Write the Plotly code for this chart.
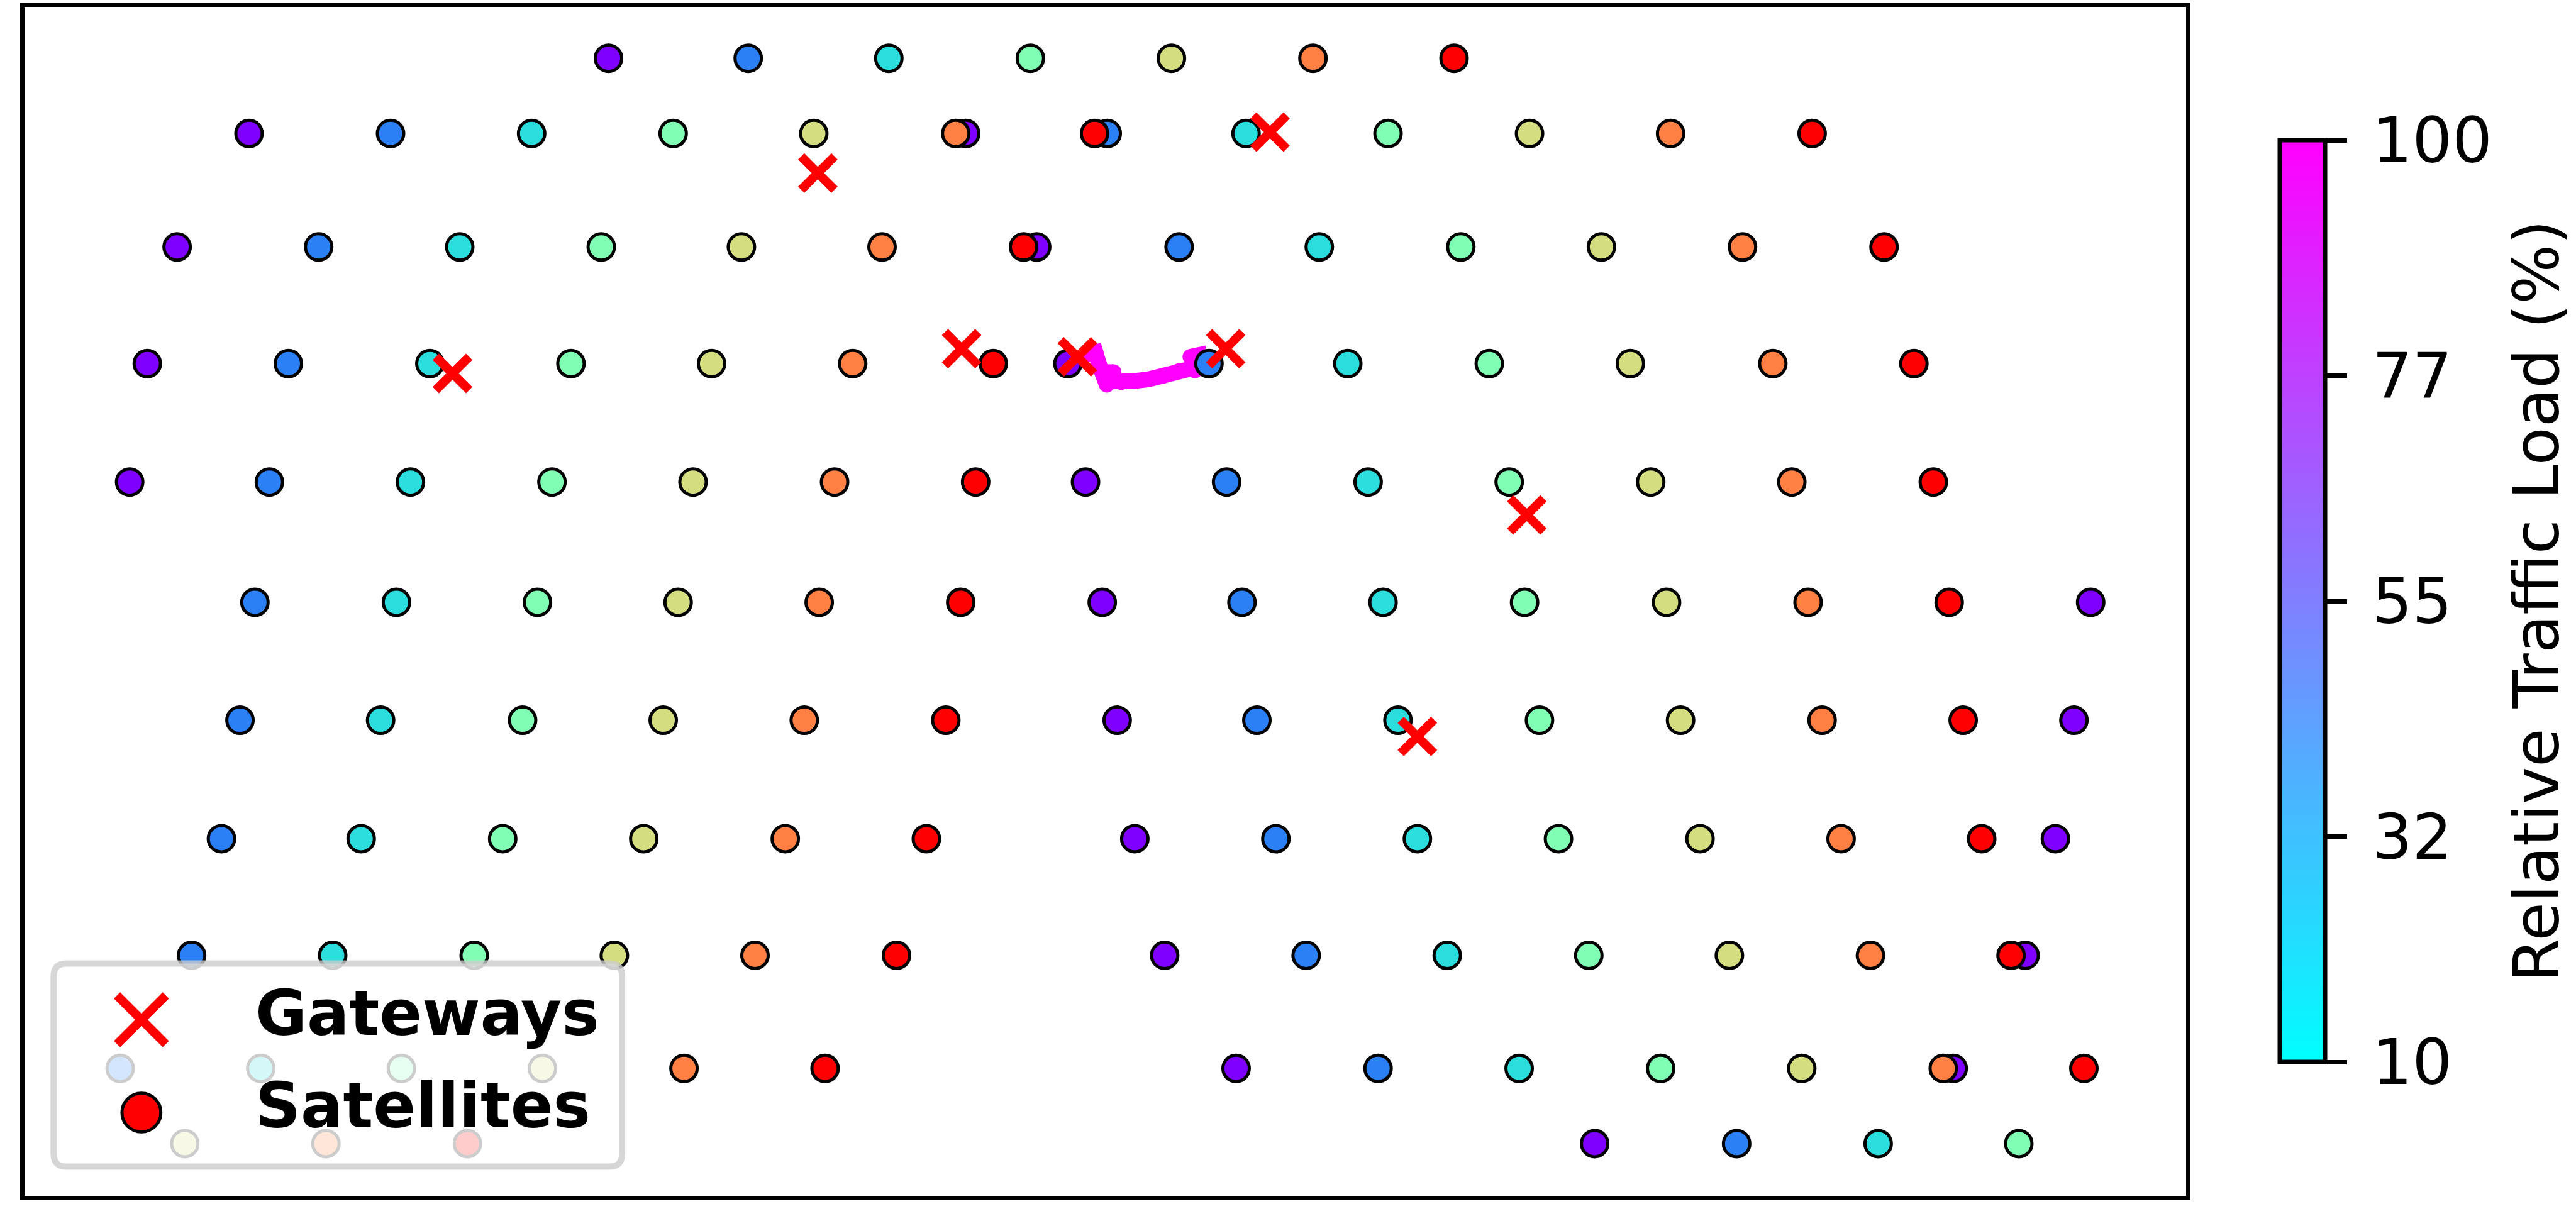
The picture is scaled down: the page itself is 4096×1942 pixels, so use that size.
import plotly.graph_objects as go
from plotly.colors import sample_colorscale

# ---------------- data (map coordinates, arbitrary units; y grows downward) ----------------
ROW_Y = [120, 287, 539, 798, 1061, 1328, 1590, 1853, 2112, 2363, 2530]
ROW_X = [
    [1346, 1655, 1966, 2279, 2591, 2904, 3216],
    [551, 864, 1176, 1489, 1800, 2114, 2136, 2421, 2449, 2756, 3070, 3383, 3695, 4008],
    [392, 705, 1017, 1330, 1640, 1951, 2264, 2293, 2608, 2918, 3231, 3542, 3854, 4167],
    [326, 638, 951, 1263, 1574, 1886, 2197, 2362, 2674, 2981, 3294, 3606, 3921, 4233],
    [287, 596, 908, 1221, 1533, 1846, 2158, 2401, 2713, 3026, 3338, 3651, 3963, 4276],
    [564, 877, 1189, 1500, 1812, 2125, 2438, 2747, 3059, 3372, 3686, 3999, 4311, 4624],
    [531, 842, 1156, 1467, 1779, 2092, 2471, 2780, 3092, 3405, 3717, 4030, 4342, 4587],
    [490, 799, 1112, 1424, 1737, 2049, 2510, 2822, 3135, 3447, 3760, 4072, 4383, 4546],
    [424, 736, 1049, 1359, 1670, 1983, 2576, 2889, 3201, 3514, 3825, 4137, 4448, 4479],
    [266, 577, 888, 1200, 1513, 1825, 2734, 3048, 3360, 3673, 3985, 4298, 4320, 4609],
    [409, 721, 1034, 3527, 3841, 4154, 4465],
]
ROW_PLANE = [
    [0, 1, 2, 3, 4, 5, 6],
    [0, 1, 2, 3, 4, 5, 0, 6, 1, 2, 3, 4, 5, 6],
    [0, 1, 2, 3, 4, 5, 6, 0, 1, 2, 3, 4, 5, 6],
    [0, 1, 2, 3, 4, 5, 6, 0, 1, 2, 3, 4, 5, 6],
    [0, 1, 2, 3, 4, 5, 6, 0, 1, 2, 3, 4, 5, 6],
    [1, 2, 3, 4, 5, 6, 0, 1, 2, 3, 4, 5, 6, 0],
    [1, 2, 3, 4, 5, 6, 0, 1, 2, 3, 4, 5, 6, 0],
    [1, 2, 3, 4, 5, 6, 0, 1, 2, 3, 4, 5, 6, 0],
    [1, 2, 3, 4, 5, 6, 0, 1, 2, 3, 4, 5, 6, 0],
    [1, 2, 3, 4, 5, 6, 0, 1, 2, 3, 4, 5, 0, 6],
    [4, 5, 6, 0, 1, 2, 3],
]
GW_X = [1809, 2809, 1001, 2127, 2383, 2711, 3377, 3135]
GW_Y = [375, 284, 820, 765, 783, 765, 1134, 1626]

ROUTE_X = [2397, 2423, 2432, 2448, None, 2443, 2463, None,
           2453, 2480, 2507, 2540, 2573, 2607, 2643, None, 2633, 2647, 2643]
ROUTE_Y = [780, 773, 803, 845, None, 817, 817, None,
           837, 839, 837, 833, 825, 815, 807, None, 783, 780, 813]
ROUTE_LOAD = [100] * len(ROUTE_X)

LOAD_MIN, LOAD_MAX = 10, 100
CBAR_TICKS = [10, 32, 55, 77, 100]
CBAR_TITLE = "Relative Traffic Load (%)"

# ---------------- styles / layout ----------------
PLANE_COLORS = ["#8000ff", "#2b80f6", "#2bdddd", "#80ffb4", "#d4dd80", "#ff8042", "#ff0000"]
COOL = [[0.0, "rgb(0,255,255)"], [1.0, "rgb(255,0,255)"]]
FONT = "DejaVu Sans"
W, H = 4096, 1942
ML, MR, MT, MB = 39.2, 619.6, 4.3, 39.5
PW, PH = W - ML - MR, H - MT - MB


def px_to_paper_x(px):
    return (px - ML) / PW


def px_to_paper_y(py):
    return (H - MB - py) / PH


sx, sy, sc = [], [], []
for y, xs, ps in zip(ROW_Y, ROW_X, ROW_PLANE):
    for x, p in zip(xs, ps):
        sx.append(x)
        sy.append(y)
        sc.append(PLANE_COLORS[p])
# draw right-to-left so left neighbours end up on top
order = sorted(range(len(sx)), key=lambda i: (-sx[i], sy[i]))
sx = [sx[i] for i in order]
sy = [sy[i] for i in order]
sc = [sc[i] for i in order]

route_color = sample_colorscale(COOL, [(max(ROUTE_LOAD) - LOAD_MIN) / (LOAD_MAX - LOAD_MIN)])[0]

fig = go.Figure()

fig.add_trace(go.Scatter(
    x=ROUTE_X, y=ROUTE_Y, mode="lines+markers", showlegend=False, connectgaps=False,
    line=dict(color=route_color, width=25),
    marker=dict(size=25, color=ROUTE_LOAD, colorscale=COOL, cmin=LOAD_MIN, cmax=LOAD_MAX,
                line=dict(width=0), showscale=True,
                colorbar=dict(
                    x=px_to_paper_x(3625), xref="paper", xanchor="left", xpad=0,
                    y=px_to_paper_y(953), yref="paper", yanchor="middle", ypad=0,
                    len=1466, lenmode="pixels", thickness=72, thicknessmode="pixels",
                    outlinewidth=7, outlinecolor="black",
                    ticks="outside", ticklen=32, tickwidth=7, tickcolor="black",
                    tickvals=CBAR_TICKS, ticktext=["\u2009" + str(t) for t in CBAR_TICKS],
                    tickfont=dict(family=FONT, size=100, color="black"),
                )),
))

fig.add_trace(go.Scatter(
    x=sx, y=sy, mode="markers", name="Satellites", showlegend=False,
    marker=dict(size=42, color=sc, line=dict(color="black", width=5)),
))

fig.add_trace(go.Scatter(
    x=GW_X, y=GW_Y, mode="markers", name="Gateways", showlegend=False,
    marker=dict(symbol="x-thin", size=53, color="red", line=dict(color="red", width=14)),
))

# ---------------- custom legend (frame with rounded corners, enlarged handles) ----------------
bx0, bx1, by0, by1, rr = 119, 1376, 2130, 2581, 28
box_path = (f"M {bx0+rr},{by0} L {bx1-rr},{by0} Q {bx1},{by0} {bx1},{by0+rr} "
            f"L {bx1},{by1-rr} Q {bx1},{by1} {bx1-rr},{by1} L {bx0+rr},{by1} "
            f"Q {bx0},{by1} {bx0},{by1-rr} L {bx0},{by0+rr} Q {bx0},{by0} {bx0+rr},{by0} Z")
shapes = [dict(type="path", path=box_path, xref="x", yref="y", layer="above",
               fillcolor="rgba(255,255,255,0.8)", line=dict(color="rgba(204,204,204,0.8)", width=10))]
gx, gy, L = 313, 2255, 54
shapes.append(dict(type="line", xref="x", yref="y", layer="above", x0=gx - L, y0=gy - L, x1=gx + L, y1=gy + L,
                   line=dict(color="red", width=14)))
shapes.append(dict(type="line", xref="x", yref="y", layer="above", x0=gx - L, y0=gy + L, x1=gx + L, y1=gy - L,
                   line=dict(color="red", width=14)))
cx, cy, r = 313, 2461, 43
shapes.append(dict(type="circle", xref="x", yref="y", layer="above", x0=cx - r, y0=cy - r, x1=cx + r, y1=cy + r,
                   fillcolor="red", line=dict(color="black", width=5)))

annotations = [
    dict(text="<b>Gateways</b>", x=564, y=2241, xref="x", yref="y", xanchor="left", yanchor="middle",
         showarrow=False, borderpad=0, font=dict(family=FONT, size=100, color="black")),
    dict(text="<b>Satellites</b>", x=564, y=2445, xref="x", yref="y", xanchor="left", yanchor="middle",
         showarrow=False, borderpad=0, font=dict(family=FONT, size=100, color="black")),
    dict(text=CBAR_TITLE, textangle=-90, x=px_to_paper_x(4034), y=px_to_paper_y(953),
         xref="paper", yref="paper", xanchor="center", yanchor="middle",
         showarrow=False, borderpad=0, font=dict(family=FONT, size=100, color="black")),
]

axis_common = dict(showgrid=False, zeroline=False, showticklabels=False, ticks="",
                   showline=True, mirror=True, linecolor="black", linewidth=7)
fig.update_layout(
    width=W, height=H,
    margin=dict(l=ML, r=MR, t=MT, b=MB, pad=0),
    paper_bgcolor="white", plot_bgcolor="white",
    xaxis=dict(range=[54.5, 4835], **axis_common),
    yaxis=dict(range=[2646, 6], **axis_common),
    shapes=shapes, annotations=annotations,
    showlegend=False,
    font=dict(family=FONT, color="black"),
)

fig.write_html("out.html")
